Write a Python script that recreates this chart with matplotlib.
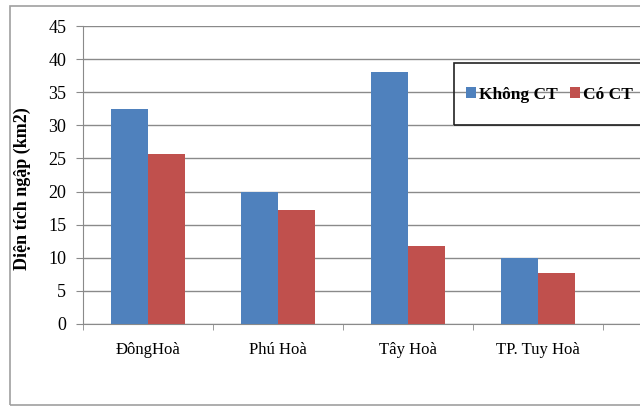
import numpy as np
import matplotlib
matplotlib.use("Agg")
import matplotlib.pyplot as plt
from matplotlib.patches import Rectangle

districts = ["ĐôngHoà", "Phú Hoà", "Tây Hoà", "TP. Tuy Hoà"]
khong_ct = [32.5, 20.0, 38.1, 10.0]
co_ct = [25.6, 17.2, 11.8, 7.7]
series_names = ["Không CT", "Có CT"]
yticks = [0, 5, 10, 15, 20, 25, 30, 35, 40, 45]

plt.rcParams['font.family'] = ['Liberation Serif', 'DejaVu Serif']

fig = plt.figure(figsize=(6.4, 4.07), dpi=100)
W, H = 640, 407
ax = fig.add_axes([83 / W, 1 - 324 / H, (660 - 83) / W, (324 - 26) / H])

x = np.arange(len(districts))
w = 0.285
ax.bar(x - w / 2, khong_ct, w, color='#4F81BD', label=series_names[0], zorder=3)
ax.bar(x + w / 2, co_ct, w, color='#C0504D', label=series_names[1], zorder=3)

ax.set_ylim(0, 45)
ax.set_xlim(-0.5, -0.5 + (660 - 83) / 130)
ax.set_yticks(yticks)
ax.yaxis.grid(True, color='#8a8a8a', linewidth=1, zorder=0)
ax.set_axisbelow(True)
for s in ['top', 'right']:
    ax.spines[s].set_visible(False)
for s in ['left', 'bottom']:
    ax.spines[s].set_color('#8a8a8a')
ax.tick_params(axis='y', length=5, color='#8a8a8a', pad=7, labelsize=13)
ax.set_xticks(x)
ax.set_xticklabels(districts)
ax.set_xticks(np.arange(-0.5, len(districts)), minor=True)
ax.tick_params(axis='x', which='major', length=0, pad=13, labelsize=12)
ax.tick_params(axis='x', which='minor', length=4, color='#8a8a8a')

fig.text(22 / W, 1 - 189 / H, "Diện tích ngập (km2)", rotation=90,
         ha='center', va='center', fontsize=13, fontweight='bold')

# legend box (cut off on the right like the reference)
fig.patches.append(Rectangle((454 / W, 1 - 125 / H), 0.4, 62 / H,
                             transform=fig.transFigure, fill=False,
                             edgecolor='#222222', linewidth=1.2, zorder=5))
ax.legend(loc='center left', bbox_to_anchor=(466 / W, 1 - 95 / H),
          bbox_transform=fig.transFigure, frameon=False, ncol=2,
          handlelength=0.6, handleheight=0.6, handletextpad=0.15,
          columnspacing=0.7, borderpad=0, borderaxespad=0,
          prop={'size': 12.5, 'weight': 'bold'})

# outer chart frame
fig.patches.append(Rectangle((10 / W, 1 - 405 / H), 1.0, 399 / H,
                             transform=fig.transFigure, fill=False,
                             edgecolor='#a0a0a0', linewidth=1.2))

fig.savefig("out.png", dpi=100)
